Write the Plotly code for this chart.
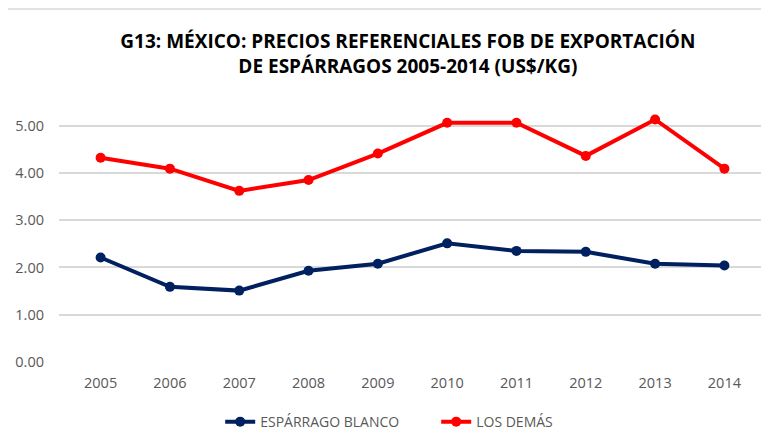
import plotly.graph_objects as go

years = ["2005", "2006", "2007", "2008", "2009", "2010", "2011", "2012", "2013", "2014"]
esparrago_blanco = [2.21, 1.59, 1.51, 1.93, 2.08, 2.51, 2.35, 2.33, 2.08, 2.04]
los_demas = [4.32, 4.09, 3.62, 3.85, 4.41, 5.06, 5.06, 4.36, 5.13, 4.09]
y_ticks = [0, 1, 2, 3, 4, 5]
y_tick_labels = ["0.00", "1.00", "2.00", "3.00", "4.00", "5.00"]

fig = go.Figure()
fig.add_trace(go.Scatter(x=years, y=esparrago_blanco, mode="lines+markers",
                         name="ESPÁRRAGO BLANCO",
                         line=dict(color="#002060", width=4),
                         marker=dict(size=10, color="#002060")))
fig.add_trace(go.Scatter(x=years, y=los_demas, mode="lines+markers",
                         name="LOS DEMÁS",
                         line=dict(color="#FF0000", width=4),
                         marker=dict(size=10, color="#FF0000")))

fig.update_layout(
    width=769, height=448,
    paper_bgcolor="white", plot_bgcolor="white",
    margin=dict(l=51, r=11, t=94, b=94),
    title=dict(text="<b>G13: MÉXICO: PRECIOS REFERENCIALES FOB DE EXPORTACIÓN<br>DE ESPÁRRAGOS 2005-2014 (US$/KG)</b>",
               x=0.52, xanchor="center", y=0.911, yanchor="top",
               font=dict(family="Open Sans", size=19, color="#000000")),
    font=dict(family="Open Sans", color="#595959", size=14.5),
    showlegend=True,
    legend=dict(orientation="h", x=0.228, xanchor="left", y=-0.231, yanchor="middle",
                font=dict(size=14, color="#595959"),
                entrywidth=171, entrywidthmode="pixels"),
    xaxis=dict(type="category", showgrid=False, showline=False, ticks="",
               automargin=False, ticklabelstandoff=10,
               tickfont=dict(size=14.5, color="#595959")),
    yaxis=dict(range=[0, 5.5], tickvals=y_ticks, ticktext=y_tick_labels,
               showgrid=True, gridcolor="#D9D9D9", gridwidth=1.5,
               zeroline=False, showline=False, ticks="", automargin=False,
               tickfont=dict(size=14.5, color="#595959"), ticklabelstandoff=14),
    shapes=[dict(type="rect", xref="paper", yref="paper", x0=-0.0738, x1=1.05, y0=-0.5, y1=1.358,
                 line=dict(color="#D9D9D9", width=1.5), fillcolor="rgba(0,0,0,0)", layer="below")],
)
fig.write_html("out.html")
